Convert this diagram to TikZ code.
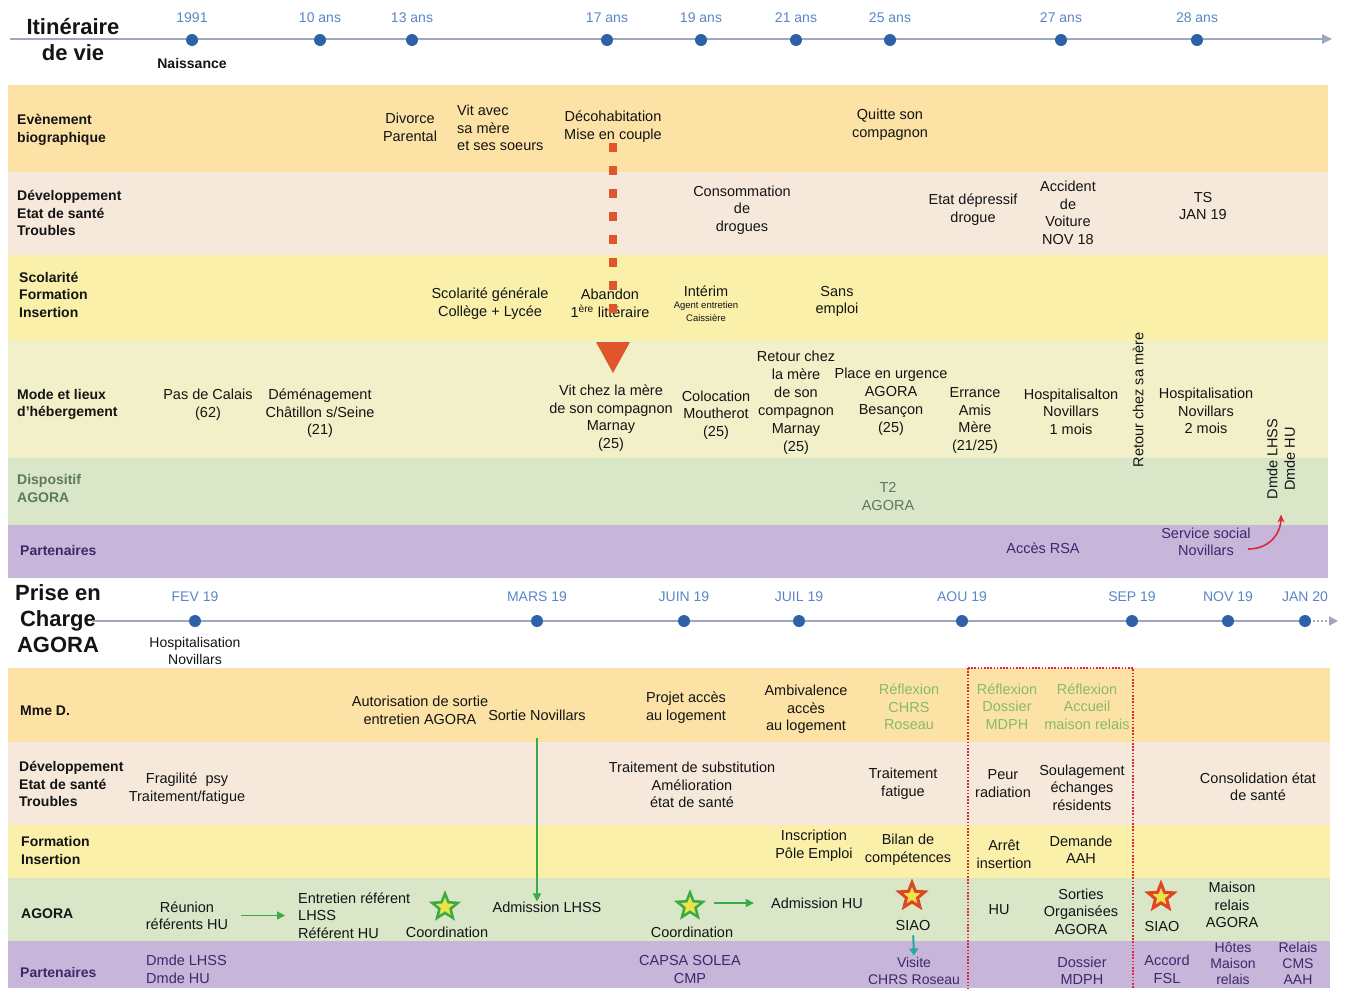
\documentclass[tikz,border=0pt]{standalone}
\usepackage{fontspec}
\setmainfont{Liberation Sans}
\usetikzlibrary{shapes.geometric,arrows.meta}
\definecolor{bEv}{HTML}{FCE3A5}
\definecolor{bDev}{HTML}{F6E9DC}
\definecolor{bSco}{HTML}{FAF0A9}
\definecolor{bMode}{HTML}{F2F0C8}
\definecolor{bDisp}{HTML}{D9E6C7}
\definecolor{bPart}{HTML}{C8B5DA}
\definecolor{tlblue}{HTML}{5B86C6}
\definecolor{dotblue}{HTML}{2E62A8}
\definecolor{tline}{HTML}{9EA6C0}
\definecolor{dgreen}{HTML}{5E7A58}
\definecolor{lgreen}{HTML}{86BC66}
\definecolor{dpurple}{HTML}{3A2A6A}
\definecolor{redsq}{HTML}{E0552B}
\definecolor{agreen}{HTML}{3AAA45}
\definecolor{starfill}{HTML}{EDE24A}
\definecolor{starred}{HTML}{E04525}
\definecolor{arrred}{HTML}{D82A3A}
\definecolor{teal}{HTML}{2AA7A0}
\definecolor{txt}{HTML}{141414}
\begin{document}
\begin{tikzpicture}[x=1pt,y=-1pt,
  t/.style={font=\fontsize{14.5}{17.5}\selectfont, align=center, inner sep=0pt, text=txt},
  tl/.style={t, align=left, anchor=west},
  lab/.style={font=\bfseries\fontsize{14}{17.5}\selectfont, align=left, anchor=west, inner sep=0pt, text=txt},
  yr/.style={font=\fontsize{14}{16}\selectfont, text=tlblue, inner sep=0pt},
  tdot/.style={circle, fill=dotblue, minimum size=12pt, inner sep=0pt},
  ttl/.style={font=\bfseries\fontsize{22}{26}\selectfont, align=center, inner sep=0pt, text=txt},
  gstar/.style={star, star points=5, star point ratio=2.3, minimum size=27pt, inner sep=0pt, fill=starfill, draw=agreen, line width=2.5pt},
  rstar/.style={star, star points=5, star point ratio=2.3, minimum size=27pt, inner sep=0pt, fill=starfill, draw=starred, line width=3pt},
  garrow/.style={agreen, line width=1.4pt, -{Triangle[length=8pt,width=8pt]}},
  small/.style={font=\fontsize{9.5}{13}\selectfont, align=center, inner sep=0pt, text=txt}
]
\useasboundingbox[fill=white] (0,0) rectangle (1348,988);

% ---------- bands ----------
\fill[bEv]   (8,85)  rectangle (1328,172);
\fill[bDev]  (8,172) rectangle (1328,255);
\fill[bSco]  (8,255) rectangle (1328,340);
\fill[bMode] (8,340) rectangle (1328,458);
\fill[bDisp] (8,458) rectangle (1328,525);
\fill[bPart] (8,525) rectangle (1328,578);

\fill[bEv]   (8,668) rectangle (1330,742);
\fill[bDev]  (8,742) rectangle (1330,825);
\fill[bSco]  (8,825) rectangle (1330,878);
\fill[bDisp] (8,878) rectangle (1330,941);
\fill[bPart] (8,941) rectangle (1330,988);

% ---------- top timeline ----------
\node[ttl] (ttop) at (73,40) {Itinéraire\\[0pt]de vie};
\coordinate (tl0) at (10,39);
\coordinate (tl1) at (1332,39);
\draw[tline, line width=2.5pt, -{Triangle[length=10pt,width=9pt]}] (tl0) -- (tl1);
\foreach \x/\l [count=\i] in {192/1991,320/10 ans,412/13 ans,607/17 ans,701/19 ans,796/21 ans,890/25 ans,1061/27 ans,1197/28 ans}{
  \node[tdot] (d\i) at (\x,40) {};
  \node[yr] (y\i) at (\x,18) {\l};
}
\node[font=\bfseries\fontsize{14}{16}\selectfont, inner sep=0pt, text=txt] (naiss) at (192,63) {Naissance};

% ---------- top labels ----------
\node[lab] (l1) at (17,130) {Evènement\\biographique};
\node[lab] (l2) at (17,213) {Développement\\Etat de santé\\Troubles};
\node[lab] (l3) at (19,294.5) {Scolarité\\Formation\\Insertion};
\node[lab] (l4) at (17,404.5) {Mode et lieux\\d'hébergement};
\node[lab, text=dgreen] (l5) at (17,488.5) {Dispositif\\AGORA};
\node[lab, text=dpurple] (l6) at (20,550) {Partenaires};

% Evenement
\node[t] (divorce) at (410,127.5) {Divorce\\Parental};
\node[tl] (vitavec) at (457,128) {Vit avec\\sa mère\\et ses soeurs};
\node[t] (decoh) at (613,126.5) {Décohabitation\\Mise en couple};
\node[t] (quitte) at (890,124.5) {Quitte son\\compagnon};
% Developpement
\node[t] (conso) at (742,210) {Consommation\\de\\drogues};
\node[t] (depress) at (973,209.5) {Etat dépressif\\drogue};
\node[t] (accid) at (1068,213) {Accident\\de\\Voiture\\NOV 18};
\node[t] (ts) at (1203,206) {TS\\JAN 19};
% Scolarite
\node[t] (scol) at (490,303.5) {Scolarité générale\\Collège + Lycée};
\node[t] (aband) at (610,303.5) {Abandon\\1\textsuperscript{ère} littéraire};
\node[t] (interim) at (706,291) {Intérim};
\node[small] (agent) at (706,312) {Agent entretien\\Caissière};
\node[t] (sans) at (837,301.5) {Sans\\emploi};
% Mode
\node[t] (pas) at (208,404.5) {Pas de Calais\\(62)};
\node[t] (demen) at (320,413.5) {Déménagement\\Châtillon s/Seine\\(21)};
\node[t] (vitchez) at (611,418) {Vit chez la mère\\de son compagnon\\Marnay\\(25)};
\node[t] (coloc) at (716,415) {Colocation\\Moutherot\\(25)};
\node[t, font=\fontsize{14.5}{18}\selectfont] (retour) at (796,403) {Retour chez\\la mère\\de son\\compagnon\\Marnay\\(25)};
\node[t, font=\fontsize{14.5}{18}\selectfont] (place) at (891,402) {Place en urgence\\AGORA\\Besançon\\(25)};
\node[t] (errance) at (975,420.5) {Errance\\Amis\\Mère\\(21/25)};
\node[t] (hosp1) at (1071,411.5) {Hospitalisalton\\Novillars\\1 mois};
\node[t, rotate=90] (retsa) at (1138,400) {Retour chez sa mère};
\node[t] (hosp2) at (1206,411) {Hospitalisation\\Novillars\\2 mois};
\node[t, rotate=90] (dmde) at (1281,459) {Dmde LHSS\\Dmde HU};
% Dispositif
\node[t, text=dgreen] (t2) at (888,496.5) {T2\\AGORA};
% Partenaires
\node[t, text=dpurple] (rsa) at (1043,548) {Accès RSA};
\node[t, text=dpurple] (servsoc) at (1206,542) {Service social\\Novillars};

% red square dashed arrow
\coordinate (rq1) at (613,326);
\draw[redsq, line width=8pt, dash pattern=on 9pt off 14pt] ([yshift=-1pt]decoh.south) -- (rq1);
\fill[redsq] (596,342) -- (630,342) -- (613,373) -- cycle;

% red curved arrow
\draw[arrred, line width=1.6pt, -{Stealth[length=8pt,width=7pt]}]
  ([xshift=-3pt,yshift=-7pt]servsoc.east) .. controls +(24,0) and +(0,16) .. ([yshift=-15pt]dmde.west);

% ---------- lower timeline ----------
\node[ttl] (tbot) at (58,618.5) {Prise en\\[0pt]Charge\\[0pt]AGORA};
\coordinate (bl0) at (92,621);
\coordinate (bl1) at (1305,621);
\coordinate (bl2) at (1338,621);
\draw[tline, line width=2.5pt] (bl0) -- (bl1);
\draw[tline, line width=2pt, dash pattern=on 2pt off 2pt, -{Triangle[length=9pt,width=9pt]}] (bl1) -- (bl2);
\foreach \x/\l [count=\i] in {195/FEV 19,537/MARS 19,684/JUIN 19,799/JUIL 19,962/AOU 19,1132/SEP 19,1228/NOV 19,1305/JAN 20}{
  \node[tdot] (e\i) at (\x,621) {};
  \node[yr] (z\i) at (\x,597) {\l};
}
\node[t, font=\fontsize{14}{17}\selectfont] (hospnov) at (195,650.5) {Hospitalisation\\Novillars};

% ---------- lower labels ----------
\node[lab] (m1) at (20,711) {Mme D.};
\node[lab] (m2) at (19,784) {Développement\\Etat de santé\\Troubles};
\node[lab] (m3) at (21,850.5) {Formation\\Insertion};
\node[lab] (m4) at (21,914) {AGORA};
\node[lab, text=dpurple] (m5) at (20,972) {Partenaires};

% Mme D.
\node[t] (autor) at (420,710.5) {Autorisation de sortie\\entretien AGORA};
\node[t] (sortie) at (537,715) {Sortie Novillars};
\node[t] (projet) at (686,707.5) {Projet accès\\au logement};
\node[t] (ambiv) at (806,709.5) {Ambivalence\\accès\\au logement};
\node[t, text=lgreen] (refl1) at (909,707) {Réflexion\\CHRS\\Roseau};
\node[t, text=lgreen] (refl2) at (1007,706.5) {Réflexion\\Dossier\\MDPH};
\node[t, text=lgreen] (refl3) at (1087,706.5) {Réflexion\\Accueil\\maison relais};
% Developpement
\node[t] (fragil) at (187,788.5) {Fragilité~~psy\\Traitement/fatigue};
\node[t] (subst) at (692,785) {Traitement de substitution\\Amélioration\\état de santé};
\node[t] (traitfat) at (903,783.5) {Traitement\\fatigue};
\node[t] (peur) at (1003,783.5) {Peur\\radiation};
\node[t] (soulag) at (1082,787.5) {Soulagement\\échanges\\résidents};
\node[t] (consol) at (1258,786.5) {Consolidation état\\de santé};
% Formation
\node[t] (inscr) at (814,845.5) {Inscription\\Pôle Emploi};
\node[t] (bilan) at (908,849.5) {Bilan de\\compétences};
\node[t] (arret) at (1004,854.5) {Arrêt\\insertion};
\node[t] (demaah) at (1081,849.5) {Demande\\AAH};
% AGORA
\node[t] (reunion) at (187,915.5) {Réunion\\référents HU};
\node[tl] (entret) at (298,915.5) {Entretien référent\\LHSS\\Référent HU};
\node[gstar] (s1) at (445,907) {};
\node[t] (coord1) at (447,932) {Coordination};
\node[t] (admlhss) at (547,907) {Admission LHSS};
\node[gstar] (s2) at (690,906) {};
\node[t] (coord2) at (692,932) {Coordination};
\node[t] (admhu) at (817,903) {Admission HU};
\node[rstar] (s3) at (912,896) {};
\node[t] (siao1) at (913,925) {SIAO};
\node[t] (hu) at (999,910) {HU};
\node[t] (sorties) at (1081,911.5) {Sorties\\Organisées\\AGORA};
\node[rstar] (s4) at (1161,897) {};
\node[t] (siao2) at (1162,926) {SIAO};
\node[t] (mrel) at (1232,905) {Maison\\relais\\AGORA};
% Partenaires
\node[tl, text=dpurple] (dmde2) at (146,969.5) {Dmde LHSS\\Dmde HU};
\node[t, text=dpurple] (capsa) at (690,969.5) {CAPSA SOLEA\\CMP};
\node[t, text=dpurple, font=\fontsize{14}{16.5}\selectfont] (visite) at (914,971) {Visite\\CHRS Roseau};
\node[t, text=dpurple] (dossier) at (1082,970.5) {Dossier\\MDPH};
\node[t, text=dpurple] (accord) at (1167,969.5) {Accord\\FSL};
\node[t, text=dpurple, font=\fontsize{14}{16}\selectfont] (hotes) at (1233,963.5) {Hôtes\\Maison\\relais};
\node[t, text=dpurple, font=\fontsize{14}{16}\selectfont] (relais) at (1298,963.5) {Relais\\CMS\\AAH};

% arrows lower
\draw[garrow] ([xshift=13pt]reunion.east) -- ([xshift=-13pt]entret.west);
\draw[agreen, line width=1.4pt, -{Triangle[length=8pt,width=8pt]}] (sortie.south) ++(0,17) -- (sortie.south |- admlhss.north);
\draw[garrow] ([xshift=14pt]s2.east |- admhu.west) -- ([xshift=-17pt]admhu.west);
\draw[teal, line width=2pt, -{Triangle[length=7pt,width=9pt]}, shorten <=5pt, shorten >=2pt] (siao1.south) -- (visite.north);

% dotted red frame
\draw[arrred, line width=1.6pt, dash pattern=on 1.6pt off 1.6pt] (968,668) rectangle (1133,995);
\end{tikzpicture}
\end{document}
